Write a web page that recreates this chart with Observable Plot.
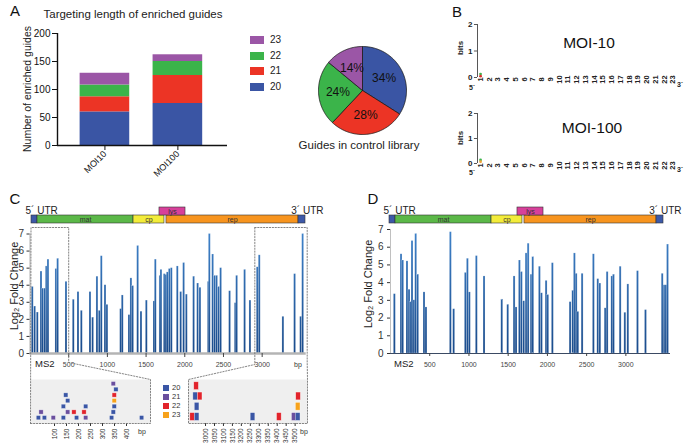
<!DOCTYPE html>
<html><head><meta charset="utf-8">
<script src="https://cdn.jsdelivr.net/npm/d3@7"></script>
<script src="https://cdn.jsdelivr.net/npm/@observablehq/plot@0.6"></script>
<style>
html,body{margin:0;padding:0;background:#fff}
#root{position:relative;width:687px;height:444px;overflow:hidden;background:#fff}
</style></head>
<body><div id="root"></div>
<script>
// ---------------- DATA ----------------
const lengths = ["20", "21", "22", "23"];
const colorsA = ["#3a55a4", "#ec3425", "#3bb44a", "#9b56a6"];
const groupsA = ["MOI10", "MOI100"];
const countsMOI10 = [60, 27, 21, 21];
const countsMOI100 = [75, 50, 25, 12];
const yTicksA = [0, 50, 100, 150, 200];
const pieShares = [34, 28, 24, 14];

const logoPositions = [1,2,3,4,5,6,7,8,9,10,11,12,13,14,15,16,17,18,19,20,21,22,23];
const logoBitsTicks = [0, 1, 2];
const logoMOI10 = [{pos: 1, h: 0.13, color: "#3cb44b"}, {pos: 1, h: 0.05, color: "#d9302c"}];
const logoMOI100 = [{pos: 1, h: 0.14, color: "#3cb44b"}, {pos: 1, h: 0.07, color: "#f2a33a"}];

const genomeLen = 3569;
const geneNames = ["5UTR", "mat", "cp", "rep", "3UTR", "lys"];
const geneStart = [0, 78, 1329, 1758, 3478, 1667];
const geneEnd = [78, 1329, 1732, 3478, 3569, 2006];
const geneRow = [0, 0, 0, 0, 0, 1];
const geneLabel = ["", "mat", "cp", "rep", "", "lys"];
const geneColor = ["#3d59a8", "#5bb848", "#f3ec3a", "#f7941e", "#3d59a8", "#d7409a"];

const C_pos = [23, 54, 88, 136, 157, 183, 204, 226, 329, 351, 459, 553, 614, 657, 769, 803, 859, 889, 915, 963, 988, 1165, 1186, 1273, 1298, 1320, 1385, 1428, 1497, 1596, 1613, 1673, 1686, 1729, 1751, 1768, 1794, 1820, 1897, 1941, 1979, 2014, 2108, 2160, 2190, 2298, 2311, 2354, 2380, 2405, 2431, 2457, 2573, 2646, 2664, 2767, 2836, 2930, 2956, 3262, 3413, 3491, 3517];
const C_val = [3.9, 2.75, 2.4, 4.8, 3.8, 3.8, 5.1, 5.5, 4.95, 5.55, 4.2, 3.15, 3.6, 2.5, 3.6, 2.1, 4.5, 2.5, 5.7, 4.0, 2.85, 2.6, 3.4, 2.25, 4.4, 3.95, 6.3, 2.45, 3.1, 3.05, 5.5, 4.55, 4.9, 4.65, 4.6, 4.75, 4.95, 5.0, 5.1, 3.6, 5.3, 3.45, 4.5, 4.1, 3.85, 4.2, 7.0, 5.8, 4.55, 4.55, 3.9, 5.0, 3.65, 2.95, 4.55, 4.9, 3.1, 5.05, 5.75, 2.15, 4.65, 2.15, 7.0];

const D_pos = [43, 128, 149, 204, 230, 251, 268, 293, 315, 340, 421, 446, 757, 799, 948, 974, 999, 1088, 1186, 1412, 1488, 1569, 1594, 1637, 1662, 1692, 1722, 1748, 1786, 1807, 1892, 1918, 1977, 1998, 2057, 2283, 2317, 2338, 2360, 2381, 2436, 2580, 2636, 2662, 2730, 2755, 2815, 2836, 2921, 2981, 3019, 3142, 3244, 3457, 3482, 3504, 3525];
const D_val = [3.35, 5.6, 5.25, 5.2, 3.6, 2.9, 6.35, 3.0, 6.75, 4.45, 3.45, 2.6, 6.85, 2.5, 4.55, 5.35, 3.45, 5.5, 4.35, 3.05, 2.75, 4.35, 2.6, 5.25, 4.6, 2.95, 5.65, 6.2, 4.45, 5.45, 4.9, 3.4, 4.1, 3.3, 5.1, 2.9, 3.55, 5.65, 4.5, 2.35, 4.5, 5.6, 4.2, 3.95, 2.55, 4.6, 4.35, 4.45, 4.9, 2.3, 3.9, 4.65, 2.45, 4.5, 3.85, 3.85, 6.15];

const foldTicks = [0, 1, 2, 3, 4, 5, 6, 7];
const bpTicks = [500, 1000, 1500, 2000, 2500, 3000];

const zoomL = [0, 500];
const zoomR = [2905, 3569];
const lowTicksL = [100, 150, 200, 250, 300, 350, 400];
const lowTicksR = [3000, 3050, 3100, 3150, 3200, 3250, 3300, 3350, 3400, 3450, 3500];
const lowColors = {"20": "#3a56a5", "21": "#6a4f9e", "22": "#e2232b", "23": "#f7a21b"};
const lowL_pos = [35, 46, 60, 97, 139, 139, 149, 157, 157, 183, 194, 225, 232, 232, 340, 347, 351, 351, 351, 358, 347, 465];
const lowL_row = [0, 1, 0, 0, 0, 2, 4, 3, 1, 1, 0, 1, 2, 0, 0, 1, 2, 3, 4, 5, 6, 0];
const lowL_len = ["20","21","20","21","20","20","20","20","21","22","20","22","20","21","20","20","20","23","22","20","21","20"];
const lowR_pos = [2928, 2953, 2953, 2945, 2970, 2950, 3265, 3412, 3495, 3517, 3517, 3519];
const lowR_row = [0, 0, 1, 2, 2, 3, 0, 0, 0, 0, 1, 2];
const lowR_len = ["22","20","20","20","22","22","20","22","21","20","23","22"];

// ---------------- HELPERS ----------------
const W = 687, H = 444;
const FONT = '"Liberation Sans", Arial, Helvetica, sans-serif';
const root = document.getElementById("root");
const fmt = d => String(d);
function mount(el, left = 0, top = 0) { el.style.position = "absolute"; el.style.left = left + "px"; el.style.top = top + "px"; root.appendChild(el); return el; }
function base(o) {
  return Object.assign({width: W, height: H, color: {type: "identity"},
    style: {background: "transparent", overflow: "visible", fontFamily: FONT, maxWidth: "none"}}, o);
}
function label(text, x, y, o = {}) {
  const {size = 10, anchor = "middle", rotate = 0, weight = "normal", color = "#111"} = o;
  const d = document.createElement("div");
  d.textContent = text;
  const tx = anchor === "start" ? "0" : anchor === "end" ? "-100%" : "-50%";
  Object.assign(d.style, {position: "absolute", left: x + "px", top: y + "px", fontSize: size + "px",
    fontWeight: weight, color, fontFamily: FONT, whiteSpace: "nowrap", lineHeight: "1",
    transform: `translate(${tx},-50%) rotate(${rotate}deg)`, transformOrigin: "50% 50%"});
  root.appendChild(d);
}
function addGradient(svg, id, y1, y2) {
  const defs = d3.select(svg).insert("defs", ":first-child");
  const g = defs.append("linearGradient").attr("id", id).attr("gradientUnits", "userSpaceOnUse")
    .attr("x1", 0).attr("x2", 0).attr("y1", y1).attr("y2", y2);
  g.append("stop").attr("offset", "0%").attr("stop-color", "#3f82c9");
  g.append("stop").attr("offset", "100%").attr("stop-color", "#1a4b8b");
}

// ---------------- PANEL A ----------------
const stackA = [];
[countsMOI10, countsMOI100].forEach((arr, gi) => {
  let c = 0;
  arr.forEach((v, li) => { stackA.push({gi, color: colorsA[li], y1: c, y2: c + v}); c += v; });
});
const xA = [-0.15, 2.18];
mount(Plot.plot(base({
  marginLeft: 57, marginRight: W - 227, marginTop: 33, marginBottom: H - 145,
  x: {domain: xA, axis: null}, y: {domain: [0, 200], axis: null},
  marks: [
    Plot.rect(stackA, {x1: d => d.gi + 0.16, x2: d => d.gi + 0.84, y1: "y1", y2: "y2", fill: "color"}),
    Plot.ruleY([0], {stroke: "#111", strokeWidth: 1.4}),
    Plot.ruleX([xA[0]], {y1: 0, y2: 200, stroke: "#111", strokeWidth: 1.4}),
    Plot.axisY(yTicksA, {tickSize: 5, tickPadding: 2, fontSize: 10, label: null, color: "#111", tickFormat: fmt}),
    Plot.axisX(groupsA.map((g, i) => i + 0.5), {tickFormat: d => groupsA[Math.round(d - 0.5)], tickRotate: -45,
      tickSize: 5, tickPadding: 2, fontSize: 9, label: null, color: "#111"})
  ]
})));
label("A", 15, 10, {size: 15});
label("Targeting length of enriched guides", 133, 15, {size: 11.5, color: "#222"});
label("Number of enriched guides", 27, 89, {size: 10.5, rotate: -90, color: "#222"});
[3, 2, 1, 0].forEach((li, k) => {
  const y = 40 + k * 15.6;
  const sw = document.createElement("div");
  Object.assign(sw.style, {position: "absolute", left: "250px", top: (y - 4) + "px", width: "14px", height: "8px", background: colorsA[li]});
  root.appendChild(sw);
  label(lengths[li], 270, y, {size: 10, anchor: "start", color: "#222"});
});

// ---------------- PIE ----------------
let acc = 0;
const pieTotal = d3.sum(pieShares);
const slices = pieShares.map((p, i) => {
  const a0 = acc, a1 = acc + p / pieTotal * 2 * Math.PI; acc = a1;
  const pts = [{x: 0, y: 0}];
  const n = Math.max(2, Math.ceil((a1 - a0) / 0.02));
  for (let k = 0; k <= n; k++) { const t = a0 + (a1 - a0) * k / n; pts.push({x: Math.sin(t), y: Math.cos(t)}); }
  pts.push({x: 0, y: 0});
  return {pts, mid: (a0 + a1) / 2, color: colorsA[i], text: p + "%"};
});
mount(Plot.plot(base({
  marginLeft: 318, marginRight: W - 406, marginTop: 46, marginBottom: H - 134,
  x: {domain: [-1, 1], axis: null}, y: {domain: [-1, 1], axis: null},
  marks: [
    ...slices.map(s => Plot.line(s.pts, {x: "x", y: "y", fill: s.color, stroke: "#1a1a1a", strokeWidth: 0.8})),
    Plot.text(slices, {x: d => Math.sin(d.mid) * 0.56, y: d => Math.cos(d.mid) * 0.56, text: "text", fontSize: 12, fill: "#111"})
  ]
})));
label("Guides in control library", 359, 146, {size: 11.5, color: "#222"});

// ---------------- PANEL B ----------------
// one plot for both sequence logos, stacked via a shared "bits" axis offset per logo
const logoPanels = [{name: "MOI-10", top: 24, bottom: 77, letters: logoMOI10}, {name: "MOI-100", top: 113, bottom: 163, letters: logoMOI100}];
const xLogo = [0.65, 23.2];
logoPanels.forEach(p => {
  const bitsPx = (p.bottom - p.top) / 2;
  const ticks = logoBitsTicks.map(t => ({t, y: p.bottom - t * bitsPx}));
  const svg = mount(Plot.plot(base({
    marginLeft: 477, marginRight: W - 674.3, marginTop: 0, marginBottom: 0,
    x: {type: "linear", domain: xLogo, axis: null}, y: {type: "identity", axis: null},
    marks: [
      Plot.ruleX([xLogo[0]], {y1: p.bottom, y2: p.top, stroke: "#444", strokeWidth: 0.9}),
      Plot.ruleY(ticks, {y: "y", x1: xLogo[0] - 0.35, x2: xLogo[0], stroke: "#444", strokeWidth: 0.9}),
      Plot.text(ticks, {x: xLogo[0], y: "y", text: d => fmt(d.t), textAnchor: "end", dx: -5, fontSize: 8, fontWeight: "bold", fill: "#222"}),
      Plot.text(logoPositions, {x: d => d, y: () => p.bottom, text: fmt, rotate: -90, dy: 2, fontSize: 7.5, fontWeight: "bold", fill: "#222"}),
      Plot.dot(p.letters, {x: "pos", y: d => p.bottom - d.h * bitsPx, r: 1.4, fill: "color"})
    ]
  })));
});
label("B", 457, 11, {size: 15});
label("MOI-10", 589, 43, {size: 15.5, color: "#111"});
label("MOI-100", 592, 128, {size: 15.5, color: "#111"});
label("bits", 461, 48, {size: 8, rotate: -90, weight: "bold", color: "#222"});
label("bits", 461, 138, {size: 8, rotate: -90, weight: "bold", color: "#222"});
label("5´", 472, 87, {size: 7, weight: "bold", color: "#222"});
label("3´", 680, 84, {size: 7, weight: "bold", color: "#222"});
label("5´", 472, 172, {size: 7, weight: "bold", color: "#222"});
label("3´", 680, 169, {size: 7, weight: "bold", color: "#222"});

// ---------------- GENE MAPS ----------------
const genes = geneNames.map((n, i) => ({name: n, start: geneStart[i], end: geneEnd[i], row: geneRow[i], color: geneColor[i], label: geneLabel[i]}));
function geneMap(x0, x1) {
  mount(Plot.plot(base({
    marginLeft: x0, marginRight: W - x1, marginTop: 207, marginBottom: H - 223,
    x: {domain: [0, genomeLen], axis: null}, y: {domain: [0, 2], axis: null},
    marks: [
      Plot.rect(genes, {x1: "start", x2: "end", y1: "row", y2: d => d.row + 1, fill: "color", stroke: "#333", strokeWidth: 0.6}),
      Plot.text(genes.filter(d => d.label), {x: d => (d.start + d.end) / 2, y: d => d.row + 0.5, text: "label", fontSize: 7, fill: "#333"}),
      Plot.text(genes.filter(d => d.name === "5UTR"), {x: "start", y: 1.65, text: () => "5´ UTR", textAnchor: "start", dx: -6, fontSize: 10, fill: "#222"}),
      Plot.text(genes.filter(d => d.name === "3UTR"), {x: "end", y: 1.65, text: () => "3´ UTR", textAnchor: "end", dx: 18, fontSize: 10, fill: "#222"})
    ]
  })));
}
geneMap(31, 305);
geneMap(389, 663);

// ---------------- PANEL C ----------------
const barW = 25;
const barsC = C_pos.map((p, i) => ({pos: p, val: C_val[i]}));
const cSvg = mount(Plot.plot(base({
  marginLeft: 29.5, marginRight: W - 305.7, marginTop: 233.5, marginBottom: H - 353,
  x: {domain: [0, genomeLen], axis: null}, y: {domain: [0, 7], axis: null},
  marks: [
    Plot.ruleX([0], {y1: 0, y2: 7, stroke: "#a0a0a0", strokeWidth: 0.8}),
    Plot.rect(barsC, {x1: "pos", x2: d => d.pos + barW, y1: 0, y2: "val", fill: "url(#gradC)", stroke: "#ffffff", strokeOpacity: 0.4, strokeWidth: 0.5}),
    Plot.ruleY([0], {stroke: "#b4b4b4", strokeWidth: 2.6}),
    Plot.axisY(foldTicks, {tickSize: 3, tickPadding: 3, fontSize: 10, color: "#333", label: null, tickFormat: fmt}),
    Plot.axisX(bpTicks, {tickSize: 4, tickPadding: 5, fontSize: 7, color: "#444", label: null, tickFormat: fmt})
  ]
})));
const xC = cSvg.scale("x"), yC = cSvg.scale("y");
addGradient(cSvg, "gradC", yC.apply(7), yC.apply(0));
label("C", 15, 198, {size: 15});
label("Log₂ Fold Change", 14, 286, {size: 11, rotate: -90, color: "#222"});
label("MS2", 35, 364, {size: 9.5, anchor: "start", color: "#222"});
label("bp", 298, 364, {size: 7, color: "#333"});

function lowPlot(x0, x1, domain, yDom, pos, row, len, halfW, halfH, ticks) {
  const data = pos.map((p, i) => ({pos: p, row: row[i], color: lowColors[len[i]]}));
  return mount(Plot.plot(base({
    marginLeft: x0, marginRight: W - x1, marginTop: 379, marginBottom: H - 423,
    x: {domain, axis: null}, y: {domain: yDom, axis: null},
    marks: [
      Plot.frame({fill: "#efefef", stroke: "none"}),
      Plot.rect(data, {x1: d => d.pos - halfW, x2: d => d.pos + halfW, y1: d => d.row - halfH, y2: d => d.row + halfH,
        fill: "color", stroke: "#ffffff", strokeOpacity: 0.6, strokeWidth: 0.6}),
      Plot.axisX(ticks, {tickSize: 3, tickPadding: 2, tickRotate: -90, fontSize: 6.5, color: "#333", label: null, tickFormat: fmt})
    ]
  })));
}
const lowL = lowPlot(30, 150, zoomL, [-0.94, 6.82], lowL_pos, lowL_row, lowL_len, 9, 0.38, lowTicksL);
const lowR = lowPlot(188, 307, zoomR, [-0.63, 3.65], lowR_pos, lowR_row, lowR_len, 13, 0.38, lowTicksR);
label("bp", 142, 431, {size: 7, color: "#333"});
label("bp", 304, 431, {size: 7, color: "#333"});
lengths.forEach((l, k) => {
  const y = 388 + k * 9;
  const sw = document.createElement("div");
  Object.assign(sw.style, {position: "absolute", left: "163px", top: (y - 3) + "px", width: "6px", height: "6px", background: lowColors[l]});
  root.appendChild(sw);
  label(l, 172, y, {size: 7.5, anchor: "start", color: "#333"});
});

const xL = lowL.scale("x"), xR = lowR.scale("x");
const boxTop = yC.apply(7) - 6.5, base0 = yC.apply(0), lowTop = 379, lowBot = 423;
const polyL = [[xL.apply(zoomL[0]), lowBot], [xC.apply(zoomL[0]) + 1, boxTop], [xC.apply(zoomL[1]), boxTop],
  [xC.apply(zoomL[1]), base0 + 9], [xL.apply(zoomL[1]), lowTop], [xL.apply(zoomL[1]), lowBot], [xL.apply(zoomL[0]), lowBot]];
const polyR = [[xC.apply(zoomR[0]), boxTop], [xC.apply(zoomR[1]) + 1, boxTop], [xC.apply(zoomR[1]) + 1, base0 + 9],
  [xR.apply(zoomR[1]), lowTop], [xR.apply(zoomR[1]), lowBot], [xR.apply(zoomR[0]), lowBot], [xR.apply(zoomR[0]), lowTop],
  [xC.apply(zoomR[0]), base0 + 11], [xC.apply(zoomR[0]), boxTop]];
mount(Plot.plot(base({
  marginLeft: 0, marginRight: 0, marginTop: 0, marginBottom: 0,
  x: {type: "identity", axis: null}, y: {type: "identity", axis: null},
  marks: [
    Plot.line(polyL, {stroke: "#777", strokeWidth: 0.9, strokeDasharray: "1.3,1.6"}),
    Plot.line(polyR, {stroke: "#777", strokeWidth: 0.9, strokeDasharray: "1.3,1.6"})
  ]
})));

// ---------------- PANEL D ----------------
const barsD = D_pos.map((p, i) => ({pos: p, val: D_val[i]}));
const dSvg = mount(Plot.plot(base({
  marginLeft: 390, marginRight: W - 670, marginTop: 229, marginBottom: H - 353,
  x: {domain: [0, genomeLen], axis: null}, y: {domain: [0, 7], axis: null},
  marks: [
    Plot.ruleX([0], {y1: 0, y2: 7, stroke: "#b0b0b0", strokeWidth: 0.8}),
    Plot.rect(barsD, {x1: "pos", x2: d => d.pos + barW, y1: 0, y2: "val", fill: "url(#gradD)", stroke: "#ffffff", strokeOpacity: 0.4, strokeWidth: 0.5}),
    Plot.ruleY([0], {stroke: "#3b4a63", strokeWidth: 1}),
    Plot.axisY(foldTicks, {tickSize: 3, tickPadding: 4, fontSize: 10, color: "#333", label: null, tickFormat: fmt}),
    Plot.axisX(bpTicks, {tickSize: 3, tickPadding: 6, fontSize: 7, color: "#444", label: null, tickFormat: fmt})
  ]
})));
const yD = dSvg.scale("y");
addGradient(dSvg, "gradD", yD.apply(7), yD.apply(0));
label("D", 373, 198, {size: 15});
label("Log₂ Fold Change", 368, 284, {size: 11, rotate: -90, color: "#222"});
label("MS2", 394, 364, {size: 9.5, anchor: "start", color: "#222"});
</script>
</body></html>
